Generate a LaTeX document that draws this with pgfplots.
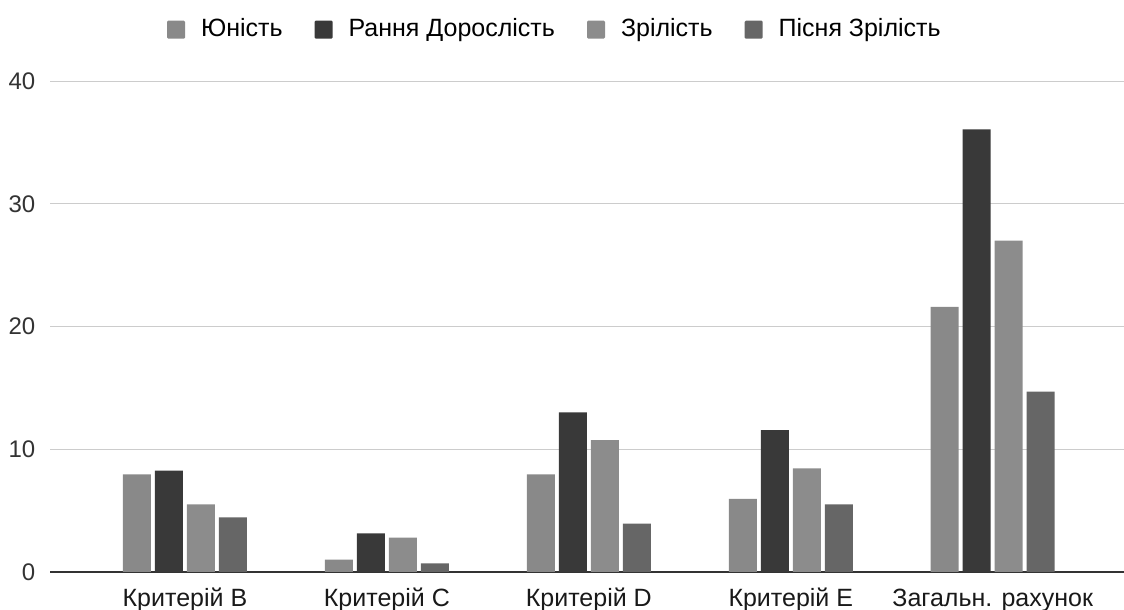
\documentclass[border=0pt]{standalone}
\usepackage{pgfplots}
\pgfplotsset{compat=1.18}
\usepackage{fontspec}
\setmainfont{Liberation Sans}

\definecolor{cYouth}{HTML}{898989}
\definecolor{cEarly}{HTML}{393939}
\definecolor{cMature}{HTML}{8C8C8C}
\definecolor{cLate}{HTML}{666666}
\definecolor{gridgray}{HTML}{CCCCCC}

\begin{document}
\fontsize{12.5}{15}\selectfont
\begin{tikzpicture}
% picture frame: 1124 x 610 px at 0.5pt per px, axis box starts at (0,0)
\useasboundingbox (-25pt,-19pt) rectangle (537pt,286pt);
\begin{axis}[
  at={(0,0)}, anchor=south west,
  scale only axis,
  width=537pt, height=245.5pt,
  ybar=2pt,
  bar width=14pt,
  xmin=-0.668, xmax=4.65,
  ymin=0, ymax=40,
  xtick={0,1,2,3,4},
  xticklabels={Критерій B, Критерій C, Критерій D, Критерій E, Загальн. рахунок},
  ytick={0,10,20,30,40},
  /pgf/number format/assume math mode=true,
  major tick length=0pt,
  axis x line=bottom,
  axis y line=left,
  x axis line style={-, draw=black!80, line width=0.8pt},
  y axis line style={draw=none},
  ymajorgrids,
  grid style={gridgray, line width=0.5pt},
  yticklabel style={text=black!80, xshift=-3pt, font=\fontsize{12}{15}\selectfont},
  xticklabel style={text=black!90, anchor=base, yshift=-17pt,
    font=\fontsize{12.5}{15}\selectfont},
  legend columns=4,
  legend style={
    draw=none, fill=none,
    at={(0.471,1)}, anchor=south,
    yshift=16pt,
    /tikz/every odd column/.append style={column sep=6pt},
    /tikz/every even column/.append style={column sep=14pt},
    font=\fontsize{12.5}{15}\selectfont,
  },
  legend image code/.code={
    \fill[#1, rounded corners=0.6pt] (0pt,-4.5pt) rectangle (9pt,4.5pt);
  },
  every axis plot/.append style={draw=none},
]
\addplot[fill=cYouth] coordinates {(0,7.95) (1,1.0) (2,7.95) (3,5.95) (4,21.6)};
\addplot[fill=cEarly] coordinates {(0,8.25) (1,3.15) (2,13.0) (3,11.55) (4,36.05)};
\addplot[fill=cMature] coordinates {(0,5.5) (1,2.8) (2,10.75) (3,8.45) (4,27.0)};
\addplot[fill=cLate] coordinates {(0,4.45) (1,0.7) (2,3.95) (3,5.5) (4,14.7)};
\legend{Юність, Рання Дорослість, Зрілість, Пісня Зрілість}
\end{axis}
\end{tikzpicture}
\end{document}
